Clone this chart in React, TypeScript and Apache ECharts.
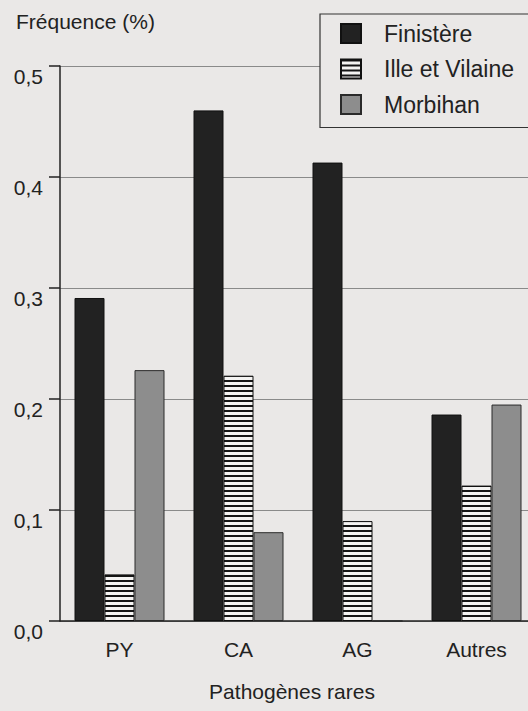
import React, { useEffect, useRef } from "react";
import * as echarts from "echarts";

const categories = ["PY", "CA", "AG", "Autres"];
const seriesNames = ["Finistère", "Ille et Vilaine", "Morbihan"];
const finistere = [0.291, 0.46, 0.413, 0.186];
const illeEtVilaine = [0.042, 0.221, 0.09, 0.122];
const morbihan = [0.226, 0.08, 0, 0.195];
const yTicks = [0, 0.1, 0.2, 0.3, 0.4, 0.5];

const BG = "#eae8e7";
const FONT = "'Liberation Sans', Arial, Helvetica, sans-serif";

function stripePattern(): HTMLCanvasElement {
  const c = document.createElement("canvas");
  c.width = 4;
  c.height = 5;
  const ctx = c.getContext("2d")!;
  ctx.fillStyle = "#f4f3f2";
  ctx.fillRect(0, 0, 4, 5);
  ctx.fillStyle = "#151515";
  ctx.fillRect(0, 0, 4, 2);
  return c;
}

export default function App() {
  const ref = useRef<HTMLDivElement>(null);
  useEffect(() => {
    document.body.style.background = BG;
    if (!ref.current) return;
    const chart = echarts.init(ref.current, undefined, { renderer: "svg" });
    const stripes = stripePattern();
    chart.setOption({
      animation: false,
      backgroundColor: BG,
      textStyle: { fontFamily: FONT },
      grid: { left: 60, top: 66, bottom: 90, right: 0, containLabel: false },
      graphic: [
        {
          type: "text",
          left: 16,
          top: 11,
          style: { text: "Fréquence (%)", fontSize: 21, fontFamily: FONT, fill: "#222" },
        },
      ],
      legend: {
        orient: "vertical",
        left: 320,
        top: 14,
        padding: [8, 60, 11.5, 20],
        itemWidth: 20,
        itemHeight: 19,
        itemGap: 12.5,
        icon: "rect",
        backgroundColor: BG,
        borderColor: "#333",
        borderWidth: 1.2,
        borderRadius: 0,
        textStyle: { fontSize: 23, color: "#222", fontFamily: FONT, padding: [0, 0, 0, 18] },
        data: seriesNames,
      },
      xAxis: {
        type: "category",
        data: categories,
        axisTick: { show: false },
        axisLine: { show: true, lineStyle: { color: "#222", width: 1.5 } },
        axisLabel: { fontSize: 21, color: "#222", margin: 18, fontFamily: FONT },
        name: "Pathogènes rares",
        nameLocation: "middle",
        nameGap: 60,
        nameTextStyle: { fontSize: 21, color: "#222", fontFamily: FONT, padding: [0, 12, 0, 0] },
      },
      yAxis: {
        type: "value",
        min: 0,
        max: 0.5,
        interval: 0.1,
        axisLine: { show: true, lineStyle: { color: "#222", width: 1.5 } },
        axisTick: { show: true, length: 11, lineStyle: { color: "#222", width: 1.5 } },
        axisLabel: {
          fontSize: 21,
          color: "#222",
          margin: 17,
          verticalAlign: "top",
          fontFamily: FONT,
          formatter: (v: number) => {
            const t = yTicks.find((x) => Math.abs(x - v) < 1e-9);
            return (t ?? v).toFixed(1).replace(".", ",");
          },
        },
        splitLine: { show: true, lineStyle: { color: "#8a8a8a", width: 1 } },
      },
      series: [
        {
          name: seriesNames[0],
          type: "bar",
          data: finistere,
          barWidth: 30,
          barGap: "0%",
          itemStyle: { color: "#222222", borderColor: "#111", borderWidth: 1 },
        },
        {
          name: seriesNames[1],
          type: "bar",
          data: illeEtVilaine,
          barWidth: 30,
          barGap: "0%",
          itemStyle: {
            color: { image: stripes, repeat: "repeat" },
            borderColor: "#111",
            borderWidth: 1,
          },
        },
        {
          name: seriesNames[2],
          type: "bar",
          data: morbihan,
          barWidth: 30,
          barGap: "0%",
          itemStyle: { color: "#8d8d8d", borderColor: "#2a2a2a", borderWidth: 1 },
        },
      ],
    });
    return () => chart.dispose();
  }, []);
  return (
    <div
      ref={ref}
      style={{ position: "fixed", left: 0, top: 0, width: 536, height: 711 }}
    />
  );
}
